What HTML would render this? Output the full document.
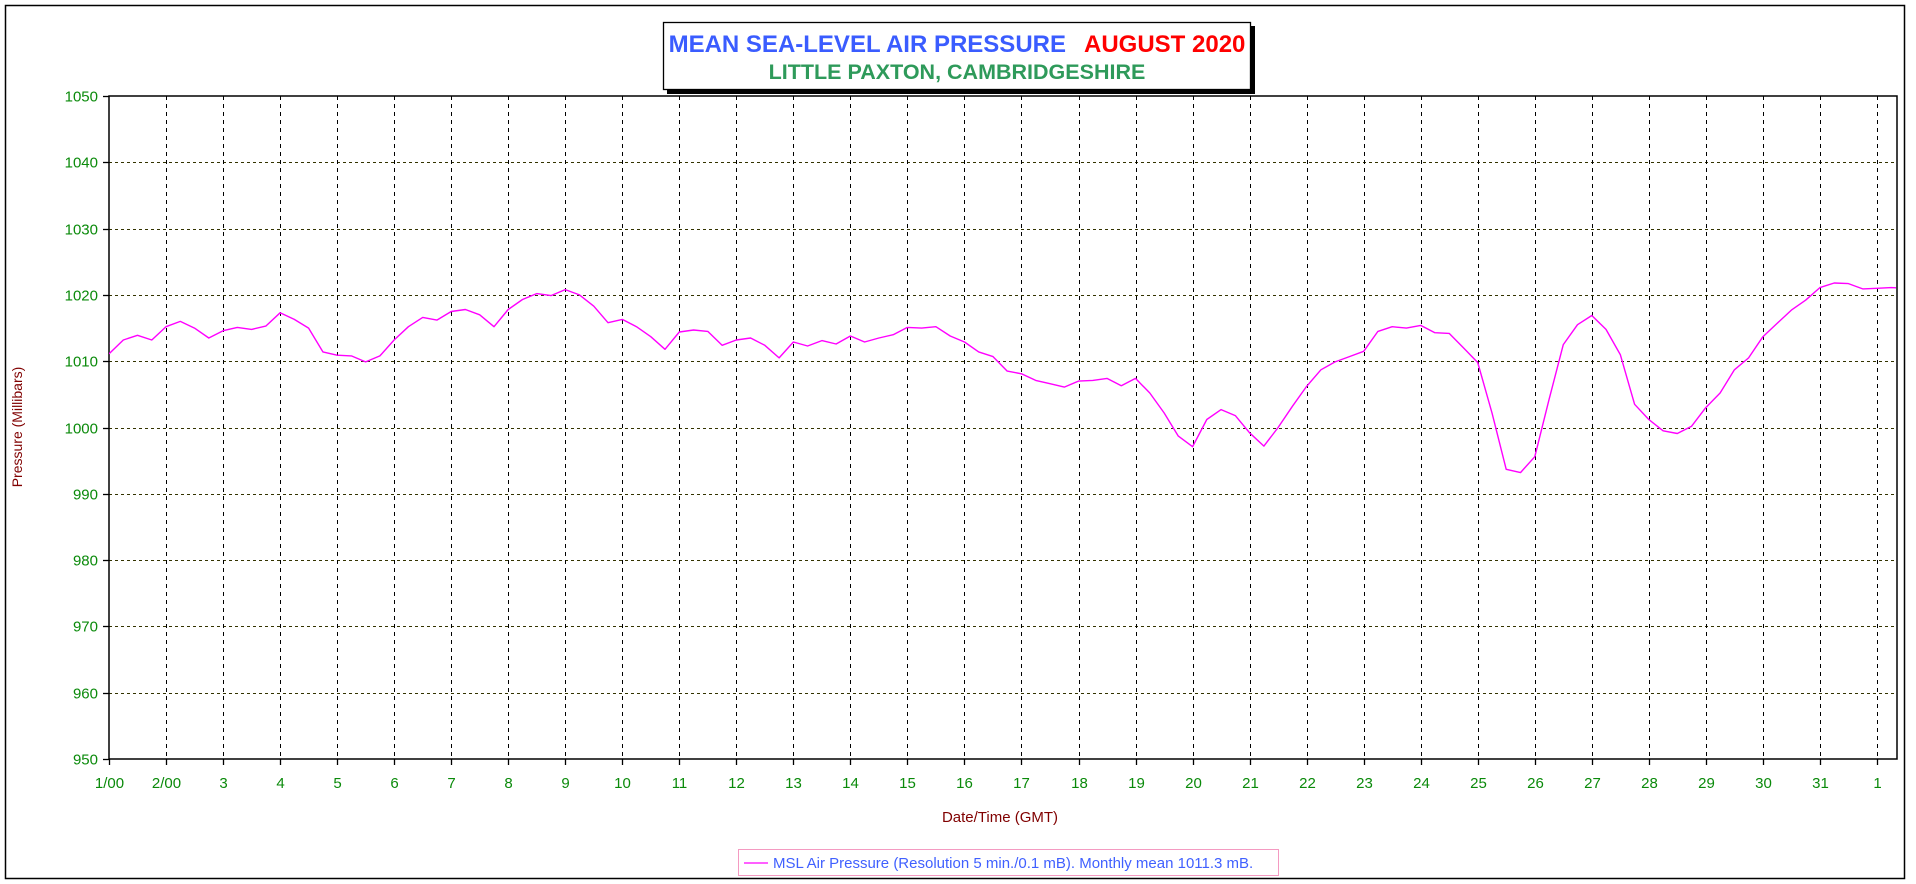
<!DOCTYPE html>
<html><head><meta charset="utf-8"><style>
html,body{margin:0;padding:0;background:#fff;}
svg{display:block;font-family:"Liberation Sans",sans-serif;}
</style></head><body>
<svg id="chart" width="1916" height="884" viewBox="0 0 1916 884">
<rect x="5.5" y="5.5" width="1899" height="873" fill="#fff" stroke="#000" stroke-width="1.5"/>
<g>
<rect x="667" y="26" width="588" height="68" fill="#000"/>
<rect x="663.5" y="22.5" width="587" height="67" fill="#fff" stroke="#000" stroke-width="1.3"/>
<text x="957" y="52" text-anchor="middle" font-size="24" font-weight="bold"><tspan fill="#3a5cff">MEAN SEA-LEVEL AIR PRESSURE</tspan><tspan fill="#ff0000" dx="18">AUGUST 2020</tspan></text>
<text x="957" y="79" text-anchor="middle" font-size="21.5" font-weight="bold" fill="#2e9a5a">LITTLE PAXTON, CAMBRIDGESHIRE</text>
</g>
<g id="grid"></g>
<g id="axes"></g>
<g id="series"></g>
<text x="22" y="427" transform="rotate(-90 22 427)" text-anchor="middle" font-size="14" fill="#800000">Pressure (Millibars)</text>
<text x="1000" y="822" text-anchor="middle" font-size="15" fill="#800000">Date/Time (GMT)</text>
<g>
<rect x="738.5" y="849.5" width="540" height="26" fill="#fff" stroke="#f49ac1" stroke-width="1"/>
<line x1="744" y1="863" x2="768" y2="863" stroke="#ff00ff" stroke-width="1.3"/>
<text x="773" y="868" font-size="15" fill="#4060ff">MSL Air Pressure (Resolution 5 min./0.1 mB). Monthly mean 1011.3 mB.</text>
</g>
</svg>
<script>
const yTicks=[950,960,970,980,990,1000,1010,1020,1030,1040,1050];
const xTickLabels=["1/00","2/00","3","4","5","6","7","8","9","10","11","12","13","14","15","16","17","18","19","20","21","22","23","24","25","26","27","28","29","30","31","1"];
const stepDays=0.25;
const pressure=[1011.1,1013.2,1013.9,1013.2,1015.2,1016.0,1015.0,1013.5,1014.6,1015.1,1014.8,1015.3,1017.3,1016.3,1015.0,1011.4,1010.9,1010.8,1009.9,1010.8,1013.2,1015.2,1016.6,1016.2,1017.5,1017.8,1017.0,1015.2,1017.8,1019.3,1020.2,1019.9,1020.8,1020.0,1018.3,1015.8,
1016.3,1015.2,1013.7,1011.8,1014.4,1014.7,1014.5,1012.4,1013.2,1013.5,1012.4,1010.5,1012.9,1012.3,1013.1,1012.6,1013.8,1012.9,1013.5,1014.0,1015.1,1015.0,1015.2,1013.8,1012.9,1011.4,1010.7,1008.5,1008.1,1007.1,1006.6,1006.1,1007.0,1007.1,1007.4,1006.3,
1007.4,1005.2,1002.2,998.7,997.1,1001.2,1002.7,1001.8,999.2,997.2,1000.0,1003.2,1006.2,1008.7,1009.9,1010.7,1011.5,1014.5,1015.2,1015.0,1015.4,1014.3,1014.2,1012.0,1009.8,1002.2,993.7,993.2,
995.6,1004.2,1012.5,1015.5,1016.9,1014.8,1011.0,1003.5,1001.2,999.5,999.1,1000.2,1003.0,1005.2,1008.7,1010.5,1013.7,1015.7,1017.7,1019.2,1021.1,1021.8,1021.7,1020.9,1021.0,1021.1,1021.0];
const NS="http://www.w3.org/2000/svg";
const L=109,R=1897,T=96,B=759,dayPx=57.03;
const xs=d=>L+d*dayPx;
const ys=v=>B-(v-950)/100*(B-T);
function mk(tag,attrs,parent){const e=document.createElementNS(NS,tag);for(const k in attrs)e.setAttribute(k,attrs[k]);parent.appendChild(e);return e;}
const grid=document.getElementById('grid'),axes=document.getElementById('axes'),series=document.getElementById('series');
yTicks.forEach(v=>{
  const y=Math.round(ys(v))+0.5;
  if(v>950&&v<1050){const g=mk('line',{x1:L,x2:R,y1:y,y2:y,stroke:'#333300','stroke-width':1,'stroke-dasharray':'3,3'},grid);
  
  }
  const t=mk('line',{x1:L-6,x2:L,y1:y,y2:y,stroke:'#000','stroke-width':1.3},axes);
  
  
  const tx=mk('text',{x:L-11,y:y+5,'text-anchor':'end','font-size':15,fill:'#0a8a0a'},axes);
  tx.textContent=v;
  
  
});
xTickLabels.forEach((lab,i)=>{
  const x=Math.round(xs(i))+0.5;
  if(i>0){const g=mk('line',{x1:x,x2:x,y1:T,y2:B,stroke:'#000','stroke-width':1,'stroke-dasharray':'4,4'},grid);
  
  }
  const t=mk('line',{x1:x,x2:x,y1:B,y2:B+6,stroke:'#000','stroke-width':1.3},axes);
  
  
  const tx=mk('text',{x:x,y:B+29,'text-anchor':'middle','font-size':15,fill:'#0a8a0a'},axes);
  tx.textContent=lab;
  
  
});
const fr=mk('rect',{x:L,y:T,width:R-L,height:B-T,fill:'none',stroke:'#000','stroke-width':1.5},axes);


const defs=mk('defs',{},series);
const cp=mk('clipPath',{id:'clip'},defs);
mk('rect',{x:L,y:T,width:R-L-1,height:B-T},cp);
const pts=pressure.map((v,i)=>xs(i*stepDays).toFixed(1)+','+ys(v).toFixed(1)).join(' ');
const pl=mk('polyline',{points:pts,fill:'none',stroke:'#ff00ff','stroke-width':1.4,'stroke-linejoin':'round','clip-path':'url(#clip)'},series);


</script>
</body></html>
